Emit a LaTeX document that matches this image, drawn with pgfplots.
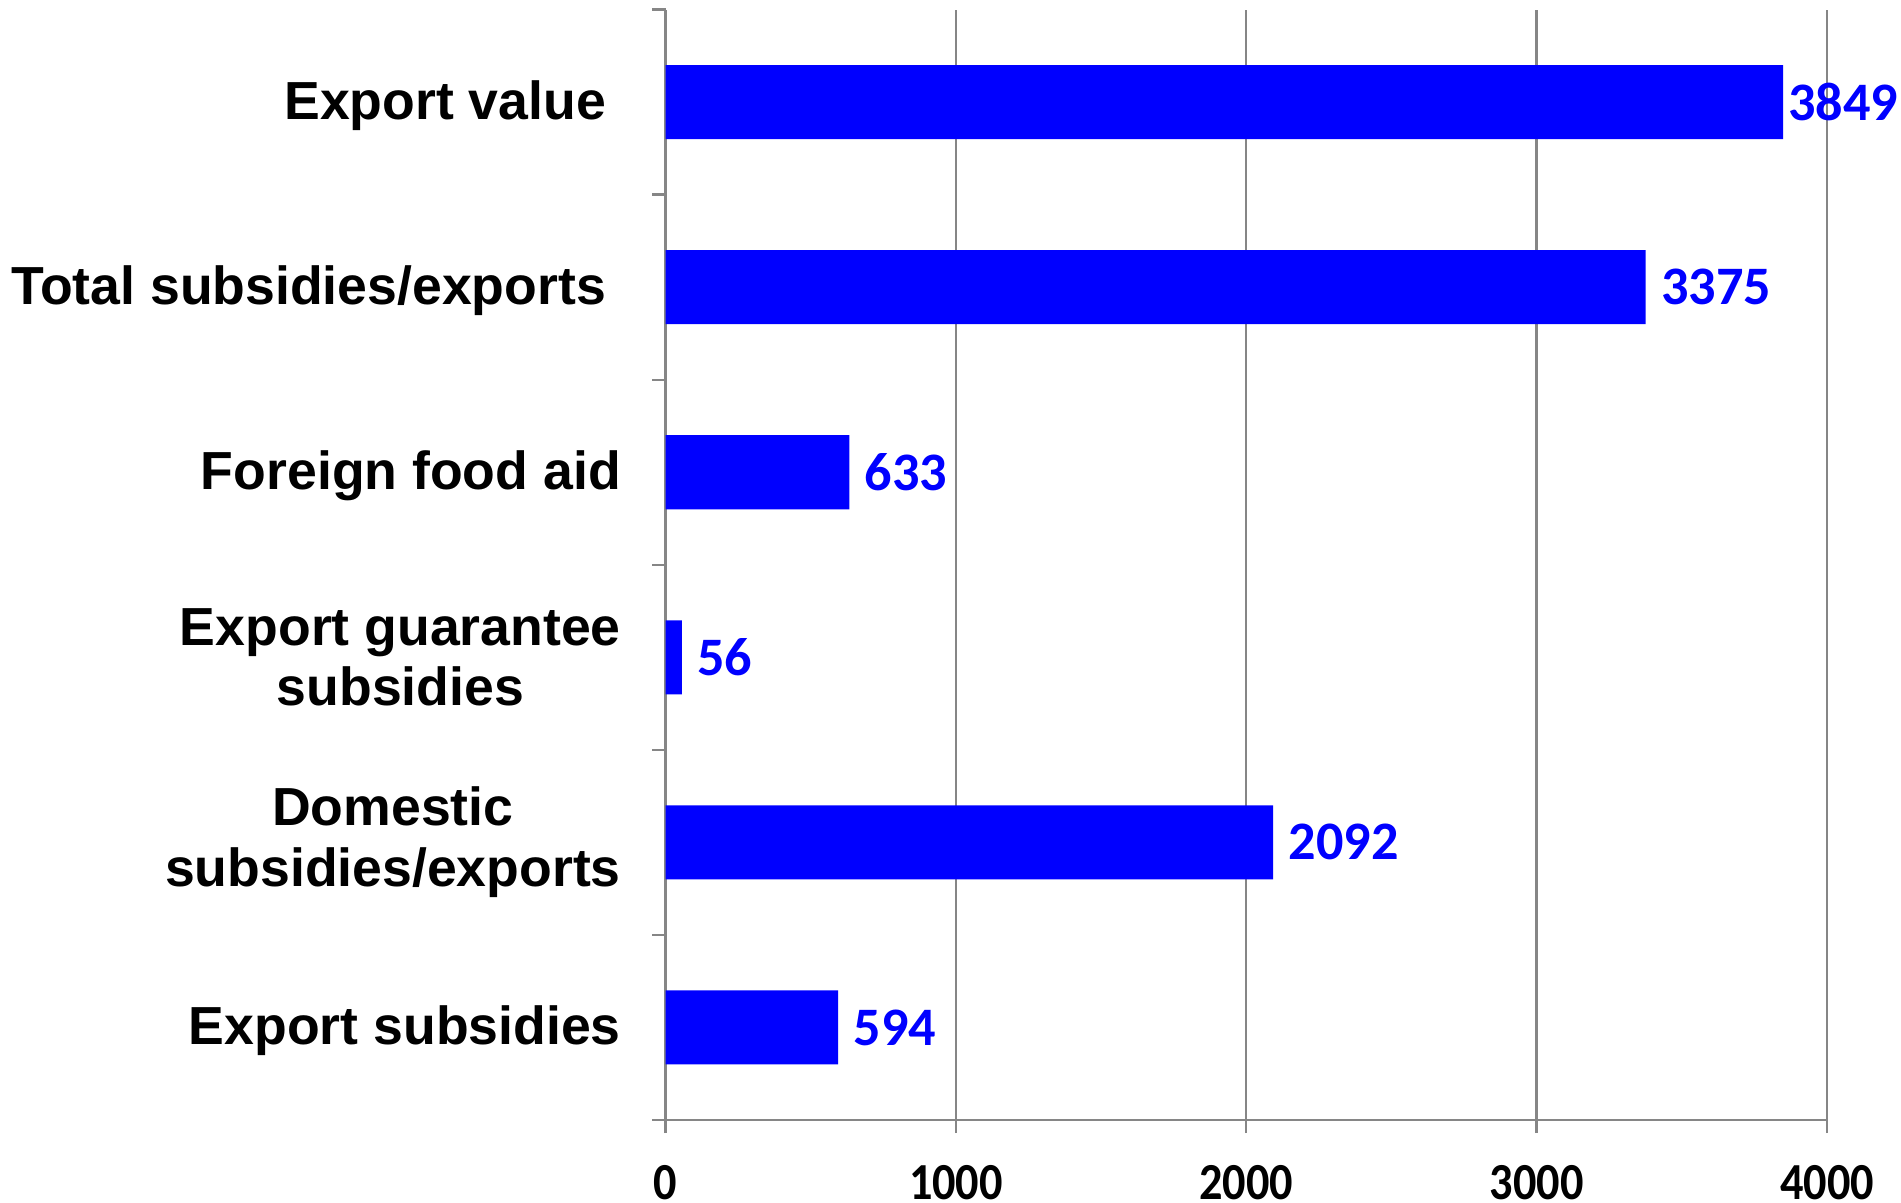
\documentclass[border=0pt]{standalone}
\usepackage{pgfplots}
\pgfplotsset{compat=1.18}
\usepackage{pgfplotstable}
\usepackage{fontspec}
\setmainfont{Liberation Sans}
\newfontfamily\catfont{Liberation Sans}
\newfontfamily\valfont{Carlito}
\newfontfamily\tickfont{Carlito}[FakeStretch=0.89]
\definecolor{gridgray}{RGB}{134,134,134}
\definecolor{barblue}{RGB}{0,0,255}
\newcommand{\lo}[1]{\raisebox{-0.9bp}[\height][\depth]{#1}}

\pgfplotstableread{
y val s
0 594 3.7
1 2092 3.7
2 56 3.7
3 633 3.7
4 3375 3.7
5 3849 1.1
}\datatable

\begin{document}
\begin{tikzpicture}
\begin{axis}[
  scale only axis,
  width=290.35bp, height=277.6bp,
  xmin=0, xmax=4000,
  ymin=-0.5, ymax=5.5,
  axis x line*=bottom,
  axis y line*=left,
  axis line style={-, draw=gridgray, line width=0.6bp},
  xtick={0,1000,2000,3000,4000},
  scaled x ticks=false,
  xmajorgrids=true,
  grid style={draw=gridgray, line width=0.6bp},
  tick align=outside,
  major tick length=3.3bp,
  tick style={draw=gridgray, line width=0.6bp},
  ytick={-0.5,0.5,1.5,2.5,3.5,4.5,5.5},
  yticklabels={},
  extra y ticks={0,1,2,3,4,5},
  extra y tick labels={\lo{Export subsidies},Domestic\\subsidies/exports,Export guarantee\\subsidies,\lo{Foreign food aid},\lo{Total subsidies/exports\hspace{3.7bp}},\lo{Export value\hspace{3.7bp}}},
  extra y tick style={major tick length=0pt, ymajorgrids=false,
    yticklabel style={font=\catfont\bfseries\fontsize{13.45}{15.2}\selectfont, align=center, anchor=east, inner sep=0pt, xshift=-11bp}},
  /pgf/number format/1000 sep={},
  /pgf/number format/assume math mode=true,
  xticklabel style={font=\tickfont\bfseries\fontsize{13.05}{13}\selectfont, anchor=north, inner sep=0pt, yshift=-7.9bp},
  clip=false,
]
\addplot[xbar, bar width=0.4, fill=barblue, draw=none,
  nodes near coords,
  visualization depends on={\thisrow{s} \as \lshift},
  every node near coord/.append style={font=\valfont\bfseries\fontsize{13.6}{14}\selectfont, text=barblue, anchor=west, inner sep=0pt, xshift=\lshift bp},
] table[x=val, y=y] {\datatable};
\end{axis}
\pgfresetboundingbox
\path[use as bounding box] ([shift={(-166.4bp,-20.75bp)}]current axis.south west) rectangle ([shift={(308.85bp,280bp)}]current axis.south west);
\end{tikzpicture}
\end{document}
